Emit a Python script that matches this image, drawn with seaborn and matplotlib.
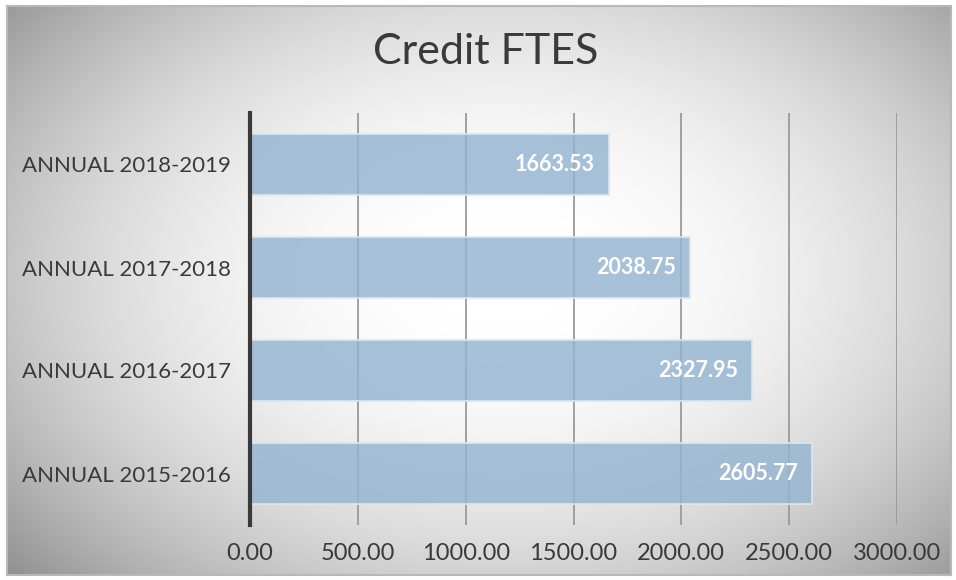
import numpy as np
import pandas as pd
import matplotlib
matplotlib.use("Agg")
import matplotlib.pyplot as plt
import seaborn as sns

# data
categories = ['ANNUAL 2018-2019', 'ANNUAL 2017-2018', 'ANNUAL 2016-2017', 'ANNUAL 2015-2016']
ftes = [1663.53, 2038.75, 2327.95, 2605.77]
x_ticks = [0, 500, 1000, 1500, 2000, 2500, 3000]

df = pd.DataFrame({'period': categories, 'ftes': ftes})

sns.set_theme(style='white')
plt.rcParams['font.family'] = ['Lato', 'DejaVu Sans']

fig = plt.figure(figsize=(9.56, 5.8), dpi=100)

# radial gradient background
bg = fig.add_axes([0.007, 0.008, 0.988, 0.982], zorder=-10)
yy, xx = np.mgrid[-1:1:300j, -1:1:500j]
r = np.sqrt(((xx - 0.05) * 0.9) ** 2 + ((yy + 0.05) * 0.8) ** 2)
bg.imshow(1 - 0.26 * np.clip(r, 0, 1.4) ** 2.2, cmap='gray', vmin=0, vmax=1,
          aspect='auto', extent=[0, 1, 0, 1], interpolation='bicubic')
bg.set_xticks([])
bg.set_yticks([])
for s in bg.spines.values():
    s.set_color('#b8b8b8')
    s.set_linewidth(1.5)

ax = fig.add_axes([250 / 956, 1 - 525 / 580, (897 - 250) / 956, (525 - 113) / 580])
ax.set_facecolor('none')

sns.barplot(data=df, y='period', x='ftes', orient='h', ax=ax, width=0.6,
            color='#93b4d0', alpha=0.82, edgecolor='#dce7f0', linewidth=1.5,
            saturation=1, zorder=3)

ax.set_xlim(0, 3000)
ax.set_ylim(3.5, -0.5)
ax.set_xticks(x_ticks)
ax.set_xticklabels([f'{v:.2f}' for v in x_ticks], fontsize=17, color='#3a3a3a')
ax.tick_params(axis='y', labelsize=16, labelcolor='#3a3a3a', pad=14, length=0)
ax.tick_params(axis='x', pad=13, length=0)
ax.set_xlabel('')
ax.set_ylabel('')
ax.xaxis.grid(True, color='#9a9a9a', linewidth=1.3, zorder=1)
ax.set_axisbelow(True)
for s in ['top', 'right', 'bottom']:
    ax.spines[s].set_visible(False)
ax.spines['left'].set_color('#3a3a3a')
ax.spines['left'].set_linewidth(3)
ax.spines['left'].set_zorder(5)

for i, v in enumerate(ftes):
    ax.text(v - 65, i, f'{v:.2f}', ha='right', va='center', color='white',
            fontsize=15.5, fontweight='bold', zorder=6)

fig.text(0.508, 0.91, 'Credit FTES', ha='center', va='center', fontsize=31, color='#3a3a3a')

fig.savefig('out.png', dpi=100)
